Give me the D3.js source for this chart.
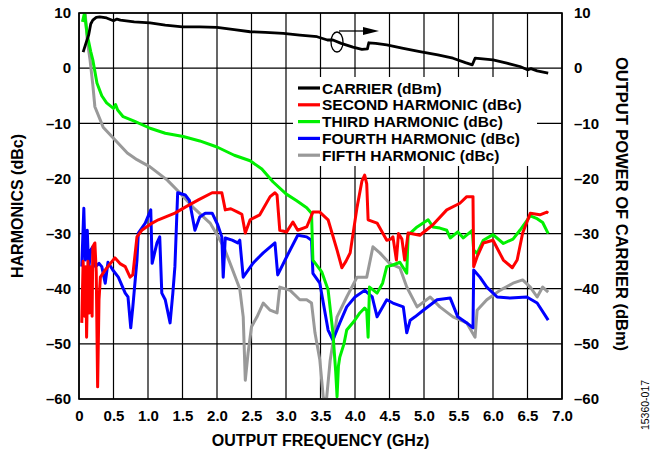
<!DOCTYPE html>
<html>
<head>
<meta charset="utf-8">
<script src="https://cdn.jsdelivr.net/npm/d3@7"></script>
<style>
  body { margin: 0; background: #fff; }
  svg { font-family: "Liberation Sans", Arial, sans-serif; font-weight: bold; }
</style>
</head>
<body>
<svg id="chart" width="651" height="456"></svg>
<script>
// values (frequency GHz, level)
const carrier = [[0.06,2.9],[0.1,4.5],[0.14,6.0],[0.17,8.0],[0.2,8.7],[0.25,9.2],[0.3,9.3],[0.4,9.1],[0.5,8.6],[0.55,8.9],[0.6,8.7],[0.8,8.4],[1.03,8.2],[1.25,7.8],[1.5,7.5],[1.75,7.5],[2.0,7.4],[2.25,7.0],[2.48,6.6],[2.7,6.5],[2.96,6.3],[3.2,6.0],[3.45,5.7],[3.6,5.1],[3.68,5.1],[3.8,4.5],[3.97,3.8],[4.1,3.4],[4.18,3.5],[4.2,4.6],[4.3,4.5],[4.46,4.2],[4.7,3.6],[4.94,3.0],[5.2,2.4],[5.42,1.8],[5.6,1.0],[5.7,0.6],[5.74,1.8],[6.0,1.5],[6.2,0.9],[6.39,0.3],[6.5,-0.3],[6.55,-0.1],[6.64,-0.5],[6.8,-0.9]];

const second = [[0.04,-46.2],[0.06,-35],[0.08,-45],[0.1,-36],[0.11,-48.8],[0.13,-35],[0.15,-44.4],[0.17,-36],[0.19,-45],[0.2,-32.4],[0.23,-31.7],[0.25,-37],[0.27,-57.8],[0.29,-42],[0.31,-37.9],[0.38,-36.6],[0.45,-35.5],[0.52,-34.4],[0.6,-35.5],[0.67,-36],[0.74,-37.9],[0.78,-37.5],[0.84,-30.6],[0.91,-29.4],[1.06,-28.1],[1.15,-27.5],[1.39,-26.3],[1.54,-25.2],[1.73,-23.9],[1.93,-22.6],[2.07,-22.6],[2.12,-25.7],[2.2,-25.5],[2.3,-26.1],[2.36,-26.5],[2.41,-29.9],[2.48,-27.5],[2.62,-26.6],[2.77,-23.3],[2.84,-22.6],[2.87,-23],[2.91,-29.4],[3.01,-29.7],[3.1,-27.9],[3.17,-29.4],[3.3,-28.8],[3.39,-26.1],[3.49,-26.1],[3.61,-27.5],[3.74,-33],[3.81,-36.2],[3.87,-35],[3.93,-33.5],[4.03,-25.2],[4.1,-20.5],[4.14,-19.4],[4.17,-21],[4.19,-27.5],[4.32,-28.1],[4.46,-31.2],[4.52,-31],[4.55,-30.6],[4.6,-34.8],[4.63,-30],[4.68,-31],[4.72,-34.8],[4.77,-29.9],[4.94,-30.3],[5.13,-28.4],[5.33,-25.7],[5.52,-24.5],[5.62,-23.3],[5.71,-23.3],[5.72,-36],[5.77,-34.2],[5.86,-31.7],[6.0,-31.2],[6.15,-34.8],[6.28,-36.2],[6.35,-34.8],[6.43,-29.9],[6.54,-26.3],[6.68,-26.6],[6.78,-26.1],[6.8,-26.3]];

const third = [[0.05,8.4],[0.08,10],[0.12,6],[0.17,3],[0.2,1.5],[0.26,-2.7],[0.33,-5],[0.4,-6.3],[0.5,-7.3],[0.53,-6.6],[0.56,-7.6],[0.64,-8.8],[0.8,-9.6],[1.03,-10.9],[1.25,-11.8],[1.51,-12.4],[1.75,-13.2],[2.0,-14.3],[2.25,-15.8],[2.48,-16.8],[2.65,-18.3],[2.81,-20.6],[3.0,-22.8],[3.15,-24],[3.3,-25.3],[3.37,-26.3],[3.39,-34.8],[3.45,-35.8],[3.52,-37],[3.61,-40.2],[3.68,-48],[3.72,-55],[3.74,-59.6],[3.76,-54],[3.78,-52.4],[3.84,-50],[3.88,-47.5],[3.98,-46],[4.07,-44.4],[4.14,-43.5],[4.17,-44],[4.19,-48.8],[4.21,-39.7],[4.32,-40.8],[4.4,-39],[4.46,-36],[4.55,-35.7],[4.65,-35.2],[4.75,-37.2],[4.77,-30.3],[4.9,-28.8],[5.06,-27.5],[5.13,-28.8],[5.23,-29],[5.33,-29.4],[5.38,-30.8],[5.49,-29.7],[5.57,-30.8],[5.7,-29.4],[5.72,-33],[5.77,-33.6],[5.86,-31.2],[6.0,-30.2],[6.15,-31.8],[6.29,-31],[6.39,-29.4],[6.54,-26.8],[6.64,-27.3],[6.72,-28],[6.8,-30]];

const fourth = [[0.04,-36],[0.07,-25.4],[0.09,-34.8],[0.12,-29.4],[0.14,-36.6],[0.17,-33],[0.2,-32.4],[0.24,-36],[0.29,-35.4],[0.33,-36],[0.38,-39],[0.42,-35.2],[0.49,-36.6],[0.57,-37.9],[0.67,-40.8],[0.71,-41.5],[0.75,-47.1],[0.78,-43.3],[0.84,-34.8],[0.86,-29.9],[0.96,-28.1],[1.04,-25.7],[1.06,-35.4],[1.13,-31.7],[1.17,-30.6],[1.2,-40.8],[1.25,-42],[1.32,-46.2],[1.36,-40.8],[1.39,-36],[1.43,-22.6],[1.54,-23],[1.6,-24],[1.68,-29.4],[1.75,-27],[1.83,-26.3],[1.93,-26.3],[2.01,-28.4],[2.07,-30.6],[2.09,-37.9],[2.12,-30.8],[2.22,-31.2],[2.3,-31.7],[2.33,-31.2],[2.38,-37.9],[2.52,-35.4],[2.67,-33.5],[2.84,-31.7],[2.88,-37.5],[3.01,-34.2],[3.17,-30.3],[3.3,-30.6],[3.37,-31.2],[3.39,-37.2],[3.49,-39],[3.61,-47.5],[3.68,-49.3],[3.78,-46.2],[3.88,-43.3],[4.0,-41.5],[4.14,-40.3],[4.25,-41.5],[4.32,-45.1],[4.46,-42],[4.55,-42.6],[4.7,-43.3],[4.75,-48],[4.8,-45.7],[4.87,-45.1],[4.99,-43.9],[5.19,-42],[5.38,-41.7],[5.49,-45.1],[5.62,-46.2],[5.71,-47.1],[5.72,-36.6],[5.81,-37.9],[5.91,-39.7],[6.06,-41.5],[6.25,-41.7],[6.49,-41.5],[6.64,-42.6],[6.8,-45.7]];

const fifth = [[0.09,10],[0.12,5],[0.16,1.5],[0.2,-3],[0.23,-7],[0.35,-10.7],[0.52,-13],[0.7,-15.4],[0.84,-16.6],[1.03,-17.9],[1.28,-20.3],[1.46,-22.6],[1.65,-25.2],[1.9,-28.1],[2.0,-30.2],[2.1,-32.5],[2.19,-35.4],[2.33,-40],[2.38,-45.1],[2.41,-56.6],[2.45,-51.7],[2.5,-46.9],[2.58,-45.1],[2.67,-42.6],[2.77,-43.9],[2.87,-44.4],[2.91,-39.7],[3.06,-40.3],[3.2,-42],[3.3,-42],[3.37,-42.6],[3.42,-48],[3.49,-52.9],[3.54,-59.6],[3.58,-61],[3.64,-53],[3.74,-45.1],[3.88,-41.5],[4.03,-37.9],[4.17,-37.9],[4.26,-32.4],[4.36,-33.5],[4.5,-35.4],[4.65,-36.2],[4.75,-39.7],[4.9,-43.3],[5.09,-41.5],[5.23,-43.3],[5.42,-45.1],[5.62,-46.2],[5.74,-48.8],[5.77,-43.9],[5.91,-42],[6.1,-40.3],[6.29,-39],[6.43,-38.4],[6.54,-39.7],[6.64,-41.5],[6.72,-39.7],[6.8,-40.6]];

const seriesNames = ["CARRIER (dBm)", "SECOND HARMONIC (dBc)", "THIRD HARMONIC (dBc)", "FOURTH HARMONIC (dBc)", "FIFTH HARMONIC (dBc)"];
const seriesColors = ["#000000", "#ff0000", "#00f000", "#0000ff", "#999999"];
const xTicks = [0, 0.5, 1.0, 1.5, 2.0, 2.5, 3.0, 3.5, 4.0, 4.5, 5.0, 5.5, 6.0, 6.5, 7.0];
const yTicks = [10, 0, -10, -20, -30, -40, -50, -60];

const svg = d3.select("#chart");
const plotLeft = 79, plotRight = 562, plotTop = 13, plotBottom = 399;

const x = d3.scaleLinear().domain([0, 7]).range([plotLeft, plotRight]);
const y = d3.scaleLinear().domain([-60, 10]).range([plotBottom, plotTop]);
const yRight = d3.scaleLinear().domain([-60, 10]).range([plotBottom, plotTop]);

svg.append("defs").append("clipPath").attr("id", "plot")
   .append("rect").attr("x", plotLeft).attr("y", plotTop)
   .attr("width", plotRight - plotLeft).attr("height", plotBottom - plotTop);

// grid
svg.append("g").selectAll("line").data(xTicks).join("line")
   .attr("x1", d => x(d)).attr("x2", d => x(d))
   .attr("y1", plotTop).attr("y2", plotBottom)
   .attr("stroke", "#000").attr("stroke-width", 1.2);
svg.append("g").selectAll("line").data(yTicks).join("line")
   .attr("x1", plotLeft).attr("x2", plotRight)
   .attr("y1", d => y(d)).attr("y2", d => y(d))
   .attr("stroke", "#000").attr("stroke-width", 1.2);

const fmt = d => d < 0 ? "\u2013" + Math.abs(d) : String(d);

// axes (labels only, the grid carries the lines)
const xAxis = svg.append("g").attr("transform", `translate(0,${plotBottom})`)
   .call(d3.axisBottom(x).tickValues(xTicks).tickSize(0).tickPadding(11)
         .tickFormat(d => d === 0 ? "0" : d3.format(".1f")(d)));
const yAxis = svg.append("g").attr("transform", `translate(${plotLeft},0)`)
   .call(d3.axisLeft(y).tickValues(yTicks).tickSize(0).tickPadding(8).tickFormat(fmt));
const yAxisR = svg.append("g").attr("transform", `translate(${plotRight},0)`)
   .call(d3.axisRight(yRight).tickValues(yTicks).tickSize(0).tickPadding(12).tickFormat(fmt));
[xAxis, yAxis, yAxisR].forEach(a => {
    a.select(".domain").remove();
    a.selectAll("text").attr("font-size", 15).attr("font-weight", "bold")
     .attr("font-family", "'Liberation Sans', Arial, sans-serif").attr("fill", "#000");
});

// series
const line = d3.line().x(d => x(d[0])).y(d => y(d[1]));
const lineR = d3.line().x(d => x(d[0])).y(d => yRight(d[1]));
const harmonics = [fifth, fourth, third, second];
const harmonicColors = [seriesColors[4], seriesColors[3], seriesColors[2], seriesColors[1]];

// legend box sits under the curves but over the grid
svg.append("rect").attr("x", 293).attr("y", 77).attr("width", 244).attr("height", 89)
   .attr("fill", "#fff");

const plotG = svg.append("g").attr("clip-path", "url(#plot)");
harmonics.forEach((s, i) => {
    plotG.append("path").datum(s).attr("d", line)
       .attr("fill", "none").attr("stroke", harmonicColors[i])
       .attr("stroke-width", 3).attr("stroke-linejoin", "round");
});
plotG.append("path").datum(carrier).attr("d", lineR)
   .attr("fill", "none").attr("stroke", seriesColors[0])
   .attr("stroke-width", 2.8).attr("stroke-linejoin", "round");

// border
svg.append("rect").attr("x", plotLeft).attr("y", plotTop)
   .attr("width", plotRight - plotLeft).attr("height", plotBottom - plotTop)
   .attr("fill", "none").attr("stroke", "#000").attr("stroke-width", 1.6);

// legend
const leg = svg.append("g").attr("transform", "translate(298,88)");
seriesNames.forEach((name, i) => {
    const row = leg.append("g").attr("transform", `translate(0,${i * 16.8})`);
    row.append("line").attr("x1", 0).attr("x2", 22).attr("y1", 0).attr("y2", 0)
       .attr("stroke", seriesColors[i]).attr("stroke-width", 3.2);
    row.append("text").attr("x", 24).attr("y", 5.5).attr("font-size", 15.5).text(name);
});

// carrier marker: ellipse with arrow to the right axis
svg.append("ellipse").attr("cx", 337).attr("cy", 42).attr("rx", 6).attr("ry", 10)
   .attr("fill", "none").attr("stroke", "#000").attr("stroke-width", 1.3);
svg.append("line").attr("x1", 339).attr("y1", 31).attr("x2", 366).attr("y2", 31)
   .attr("stroke", "#000").attr("stroke-width", 1.3);
svg.append("path").attr("d", "M363,27 L379,31 L363,35 Z").attr("fill", "#000");

// axis titles
svg.append("text").attr("x", (plotLeft + plotRight) / 2).attr("y", 446).attr("text-anchor", "middle")
   .attr("font-size", 16).text("OUTPUT FREQUENCY (GHz)");
svg.append("text").attr("transform", `translate(23,${(plotTop + plotBottom) / 2}) rotate(-90)`)
   .attr("text-anchor", "middle").attr("font-size", 16).text("HARMONICS (dBc)");
svg.append("text").attr("transform", `translate(616,${(plotTop + plotBottom) / 2 - 2}) rotate(90)`)
   .attr("text-anchor", "middle").attr("font-size", 16.5).text("OUTPUT POWER OF CARRIER (dBm)");
svg.append("text").attr("transform", "translate(649,405) rotate(-90)")
   .attr("text-anchor", "middle").attr("font-size", 10.5).attr("font-weight", "normal").text("15360-017");
</script>
</body>
</html>
